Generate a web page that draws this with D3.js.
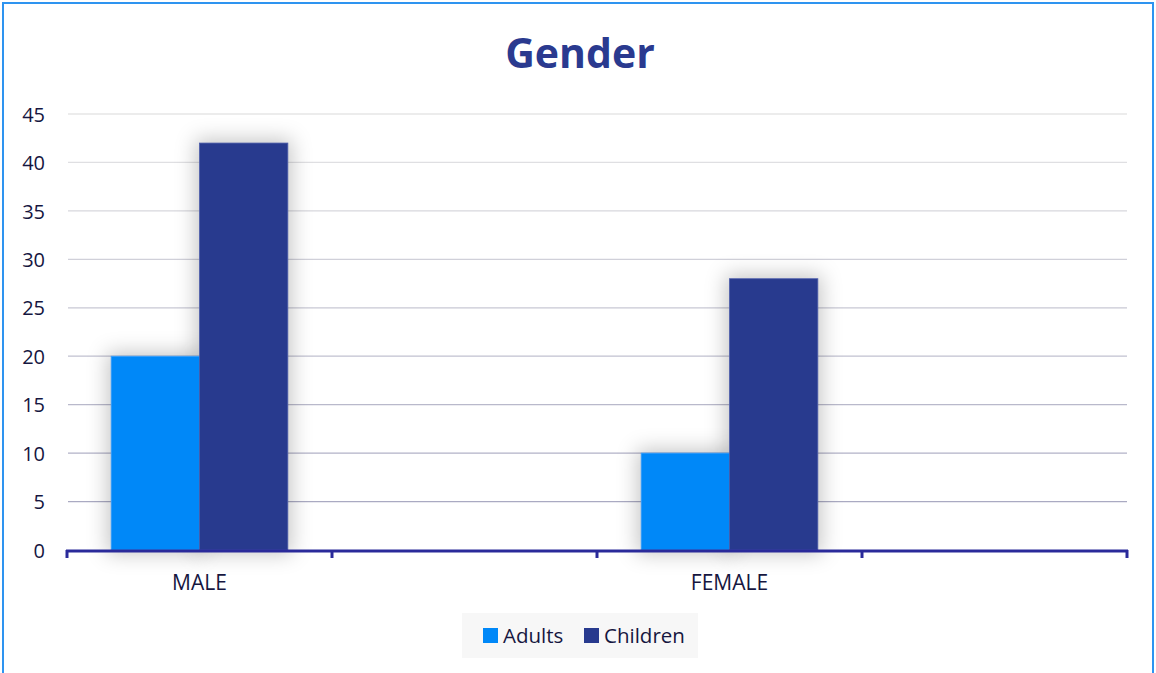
<!DOCTYPE html>
<html><head><meta charset="utf-8">
<script src="https://cdn.jsdelivr.net/npm/d3@7"></script>
<style>html,body{margin:0;padding:0;background:#fff;overflow:hidden}</style>
</head><body>
<svg id="c" width="1156" height="673"></svg>
<script>
const title = "Gender";
const categories = ["MALE", "", "FEMALE", ""];
const seriesNames = ["Adults", "Children"];
const adults = [20, null, 10, null];
const children = [42, null, 28, null];
const yTicks = [0, 5, 10, 15, 20, 25, 30, 35, 40, 45];
const colors = ["#0088F8", "#283A8E"];

const svg = d3.select("#c");
const font = "'Open Sans', sans-serif";
const W = 1156, H = 673;
const m = {left: 67, right: 1127, top: 114, bottom: 550};

const defs = svg.append("defs");
const f = defs.append("filter").attr("id","glow").attr("x","-60%").attr("y","-60%").attr("width","220%").attr("height","220%");
f.append("feMorphology").attr("in","SourceAlpha").attr("operator","dilate").attr("radius",4).attr("result","d");
f.append("feGaussianBlur").attr("in","d").attr("stdDeviation",10).attr("result","b");
f.append("feFlood").attr("flood-color","#000").attr("flood-opacity",0.22).attr("result","c");
f.append("feComposite").attr("in","c").attr("in2","b").attr("operator","in").attr("result","s");
const mg = f.append("feMerge"); mg.append("feMergeNode").attr("in","s"); mg.append("feMergeNode").attr("in","SourceGraphic");

svg.append("rect").attr("x",0).attr("y",0).attr("width",W).attr("height",H).attr("fill","#fff");
svg.append("rect").attr("x",3).attr("y",3).attr("width",W-6).attr("height",H+20)
  .attr("fill","none").attr("stroke","#2E94F0").attr("stroke-width",2);

svg.append("text").attr("x",580).attr("y",68).attr("text-anchor","middle")
  .attr("font-family",font).attr("font-weight","bold").attr("font-size",41)
  .attr("fill","#2A3A8F").text(title);

const idx = categories.map((d,i)=>i);
const x0 = d3.scaleBand().domain(idx).range([m.left, m.right]).paddingInner(0).paddingOuter(0);
const x1 = d3.scaleBand().domain(seriesNames).range([0, x0.bandwidth()]).paddingInner(0).paddingOuter(0.5);
const y = d3.scaleLinear().domain([0,45]).range([m.bottom, m.top]);

const gridColor = d3.scaleLinear().domain([0,45]).range(["#A3A3BE","#E6E6E6"]);
svg.append("g").selectAll("line").data(yTicks.filter(t=>t>0)).join("line")
  .attr("x1",m.left+1).attr("x2",m.right).attr("y1",d=>y(d)).attr("y2",d=>y(d))
  .attr("stroke",d=>gridColor(d)).attr("stroke-width",1.3);

const series = [adults, children];
const rows = [];
series.forEach((vals,si)=>vals.forEach((v,ci)=>{ if(v!=null) rows.push({s:seriesNames[si],si,ci,v}); }));
const bars = svg.append("g");
bars.selectAll("rect.sh").data(rows).join("rect").attr("class","sh")
  .attr("x",d=>x0(d.ci)+x1(d.s)).attr("width",x1.bandwidth())
  .attr("y",d=>y(d.v)).attr("height",d=>y(0)-y(d.v))
  .attr("fill","#fff").attr("filter","url(#glow)");
bars.selectAll("rect.b").data(rows).join("rect").attr("class","b")
  .attr("x",d=>x0(d.ci)+x1(d.s)).attr("width",x1.bandwidth())
  .attr("y",d=>y(d.v)).attr("height",d=>y(0)-y(d.v))
  .attr("fill",d=>colors[d.si]).attr("stroke",d=>d.si?"#4A5AA8":"#3A9CF8").attr("stroke-width",0.8);

const yAxis = svg.append("g").attr("transform",`translate(${m.left},0)`)
  .call(d3.axisLeft(y).tickValues(yTicks).tickSize(0).tickPadding(22));
yAxis.select(".domain").remove();
yAxis.selectAll("text").attr("font-family",font).attr("font-size",20).attr("fill","#16163F").attr("dy","0.36em");

const xAxis = svg.append("g").attr("transform",`translate(0,${m.bottom+1})`)
  .call(d3.axisBottom(x0).tickSize(0).tickFormat(i=>categories[i]).tickPadding(24));
xAxis.select(".domain").remove();
xAxis.selectAll("text").attr("font-family",font).attr("font-size",21).attr("fill","#16163F");
svg.append("line").attr("x1",m.left-1).attr("x2",m.right+1).attr("y1",m.bottom+1).attr("y2",m.bottom+1)
  .attr("stroke","#2A2A9A").attr("stroke-width",3);
const bounds = idx.map(i=>x0(i)).concat([m.right]);
svg.append("g").selectAll("line").data(bounds).join("line")
  .attr("x1",d=>d).attr("x2",d=>d).attr("y1",m.bottom).attr("y2",m.bottom+8)
  .attr("stroke","#2A2A9A").attr("stroke-width",3);

const lg = svg.append("g");
lg.append("rect").attr("x",462).attr("y",613).attr("width",236).attr("height",45).attr("fill","#F7F7F7");
const lx = [483, 584];
seriesNames.forEach((s,i)=>{
  lg.append("rect").attr("x",lx[i]).attr("y",628).attr("width",15).attr("height",15).attr("fill",colors[i]);
  lg.append("text").attr("x",lx[i]+20).attr("y",643).attr("font-family",font).attr("font-size",20.5).attr("fill","#16163F").text(s);
});
</script>
</body></html>
